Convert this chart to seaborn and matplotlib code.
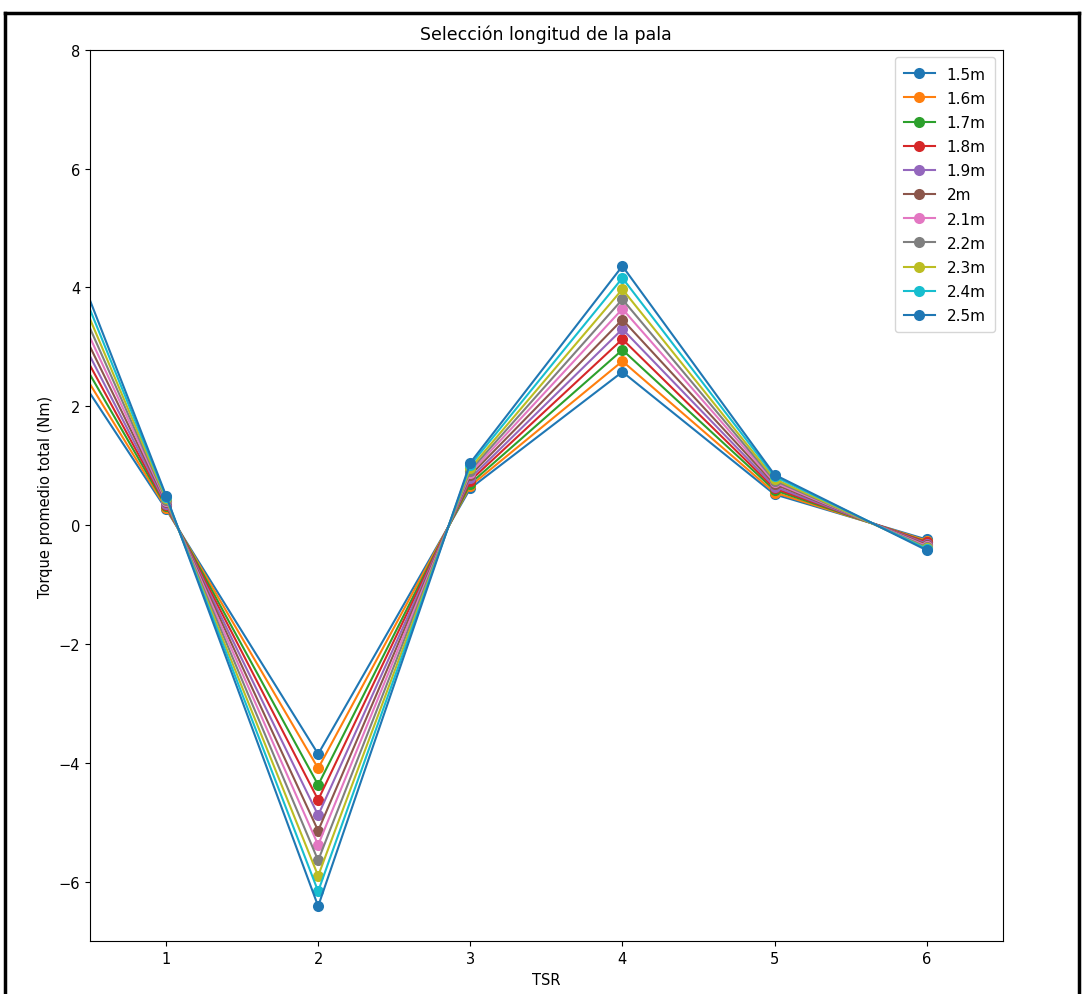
import matplotlib
matplotlib.use("Agg")
import matplotlib.pyplot as plt
from matplotlib.lines import Line2D
import seaborn as sns

# TSR values and average total torque (Nm) per blade length
tsr = [0, 1, 2, 3, 4, 5, 6]
longitudes = ["1.5m", "1.6m", "1.7m", "1.8m", "1.9m", "2m",
              "2.1m", "2.2m", "2.3m", "2.4m", "2.5m"]

torque_0 = [4.17, 4.46, 4.75, 5.04, 5.33, 5.62, 5.91, 6.20, 6.49, 6.78, 7.07]
torque_1 = [0.27, 0.29, 0.32, 0.34, 0.36, 0.39, 0.41, 0.43, 0.45, 0.48, 0.50]
torque_2 = [-3.85, -4.09, -4.37, -4.62, -4.88, -5.14, -5.38, -5.64, -5.90, -6.16, -6.41]
torque_3 = [0.62, 0.66, 0.70, 0.75, 0.79, 0.84, 0.88, 0.92, 0.96, 1.01, 1.05]
torque_4 = [2.58, 2.76, 2.95, 3.13, 3.30, 3.46, 3.64, 3.80, 3.97, 4.16, 4.36]
torque_5 = [0.52, 0.55, 0.59, 0.62, 0.65, 0.69, 0.72, 0.75, 0.78, 0.82, 0.85]
torque_6 = [-0.24, -0.26, -0.28, -0.29, -0.31, -0.33, -0.35, -0.37, -0.39, -0.40, -0.42]

columnas = [torque_0, torque_1, torque_2, torque_3, torque_4, torque_5, torque_6]
colores = sns.color_palette("tab10", 10)

fig = plt.figure(figsize=(10.84, 9.95), dpi=100)
ax = fig.add_axes([0.083, 0.053, 0.842, 0.896])

for i, lon in enumerate(longitudes):
    valores = [c[i] for c in columnas]
    color = colores[i % 10]
    sns.lineplot(x=tsr, y=valores, ax=ax, marker="o", color=color, label=lon,
                 markersize=8, markeredgewidth=0, linewidth=1.5, sort=False,
                 errorbar=None)

ax.set_xlim(0.5, 6.5)
ax.set_ylim(-7, 8)
ax.set_xticks([1, 2, 3, 4, 5, 6])
ax.set_yticks([-6, -4, -2, 0, 2, 4, 6, 8])
ax.tick_params(labelsize=10.5)
ax.set_title("Selección longitud de la pala", fontsize=12.5, pad=8)
ax.set_xlabel("TSR", fontsize=10.5)
ax.set_ylabel("Torque promedio total (Nm)", fontsize=10.5)
ax.legend(loc="upper right", fontsize=11, borderpad=0.6, handlelength=2.0,
          labelspacing=0.6)

# screenshot frame
fig.add_artist(Line2D([0.005, 0.995], [0.986, 0.986], color="black", lw=2.5,
                      transform=fig.transFigure))
fig.add_artist(Line2D([0.005, 0.005], [0.0, 0.986], color="black", lw=2.5,
                      transform=fig.transFigure))
fig.add_artist(Line2D([0.995, 0.995], [0.0, 0.986], color="black", lw=2.5,
                      transform=fig.transFigure))

fig.savefig("out.png", dpi=100)
